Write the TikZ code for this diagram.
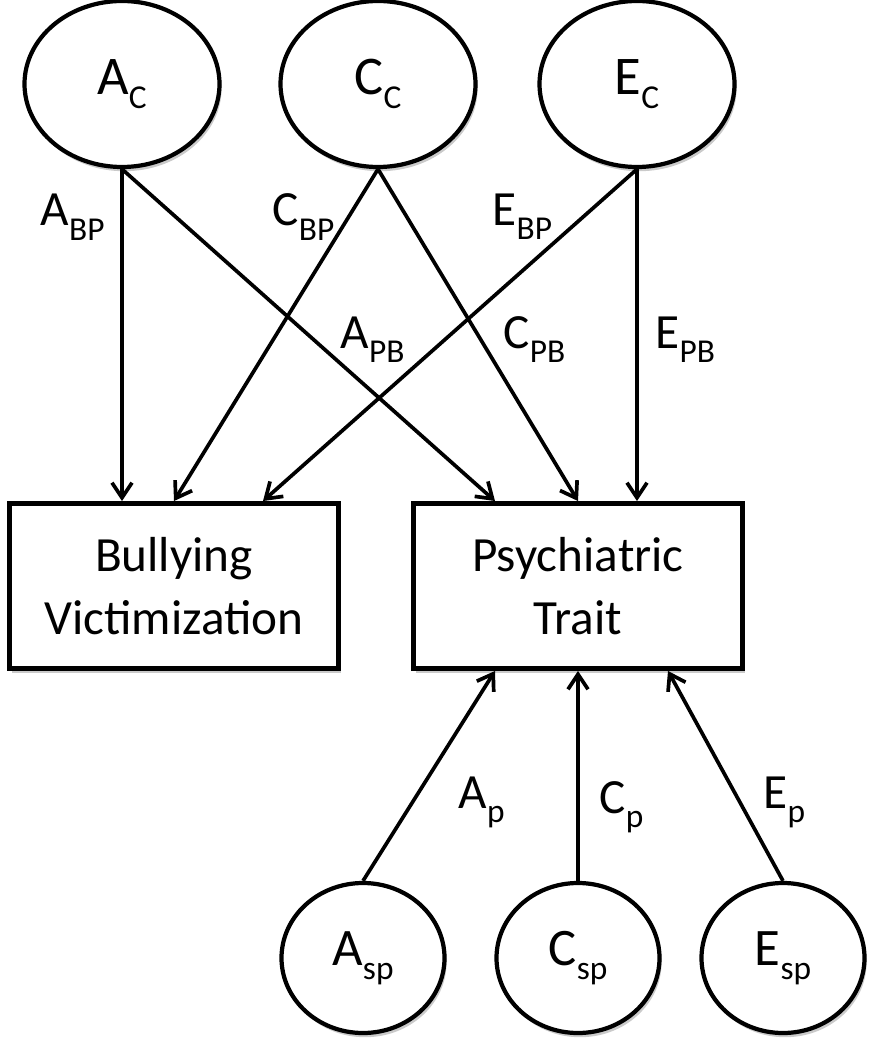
\documentclass[tikz,border=0pt]{standalone}
\usepackage{fontspec}
\setmainfont{Carlito}
\usetikzlibrary{shapes.geometric,arrows.meta,shadows}
\newcommand\idx[1]{\raisebox{-4pt}{\fontsize{9.5}{10}\selectfont#1}}

\begin{document}
\begin{tikzpicture}[x=0.1mm,y=-0.1mm,
  shade/.style={drop shadow={shadow xshift=0.6pt,shadow yshift=-1.2pt,opacity=0.35,fill=black!60}},
  latent/.style={ellipse,draw,line width=1.2pt,fill=white,shade,inner sep=0pt,
    minimum width=1.95cm,minimum height=1.66cm,font=\fontsize{15.5}{17}\selectfont},
  specific/.style={latent,minimum width=1.63cm,minimum height=1.5cm,font=\fontsize{15}{17}\selectfont},
  measure/.style={rectangle,draw,line width=1.4pt,fill=white,shade,align=center,
    minimum width=3.29cm,minimum height=1.65cm,font=\fontsize{14}{18}\selectfont},
  path/.style={line width=1.05pt,-{Straight Barb[length=1.5mm,width=2mm]}},
  coef/.style={anchor=base west,inner sep=0pt,font=\fontsize{14}{16}\selectfont}]
\useasboundingbox (0,0) rectangle (874,1050);
\node[latent] (ac) at (122,84) {A\idx{C}};
\node[latent] (cc) at (378,84) {C\idx{C}};
\node[latent] (ec) at (637,84) {E\idx{C}};
\node[measure] (bv) at (174,586) {Bullying\\Victimization};
\node[measure] (pt) at (578,586) {Psychiatric\\Trait};
\node[specific] (asp) at (363,958) {A\idx{sp}};
\node[specific] (csp) at (578,958) {C\idx{sp}};
\node[specific] (esp) at (783,958) {E\idx{sp}};
\draw[path] (ac.south) -- (ac.south |- bv.north);
\draw[path] (ac.south) -- ([xshift=-0.83cm]pt.north);
\draw[path] (cc.south) -- (bv.north);
\draw[path] (cc.south) -- (pt.north);
\draw[path] (ec.south) -- ([xshift=0.89cm]bv.north);
\draw[path] (ec.south) -- (ec.south |- pt.north);
\draw[path] (asp.north) -- ([xshift=-0.83cm]pt.south);
\draw[path] (csp.north) -- (pt.south);
\draw[path] (esp.north) -- ([xshift=0.9cm]pt.south);
\node[coef] (abp) at (40,226) {A\idx{BP}};
\node[coef] (cbp) at (272,226) {C\idx{BP}};
\node[coef] (ebp) at (492,225) {E\idx{BP}};
\node[coef] (apb) at (340,348) {A\idx{PB}};
\node[coef] (cpb) at (503,348) {C\idx{PB}};
\node[coef] (epb) at (655,348) {E\idx{PB}};
\node[coef] (ap) at (458,808) {A\idx{p}};
\node[coef] (cp) at (599,813) {C\idx{p}};
\node[coef] (ep) at (763,808) {E\idx{p}};
\end{tikzpicture}
\end{document}
